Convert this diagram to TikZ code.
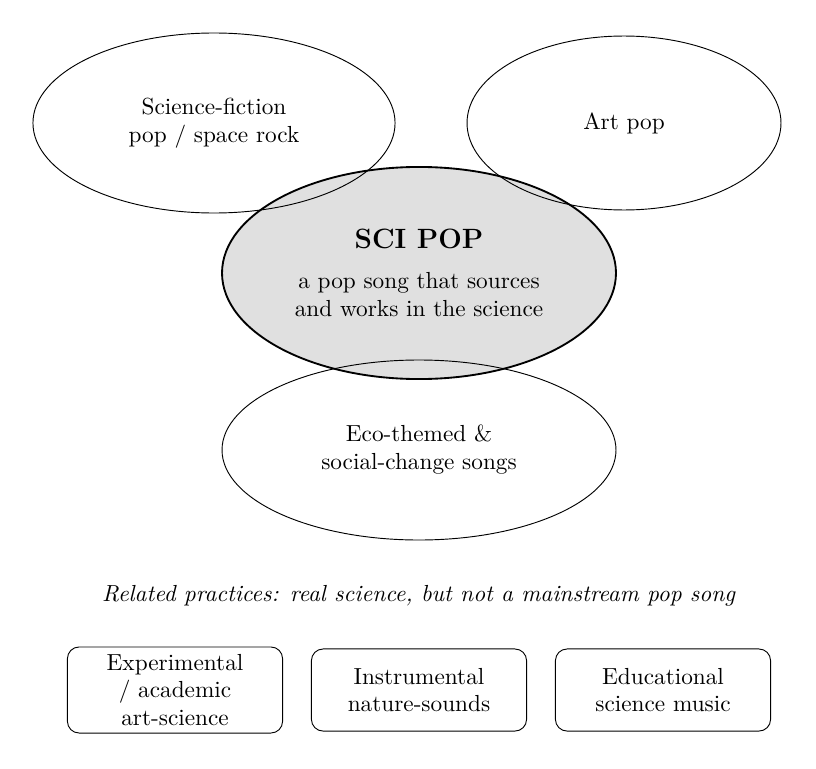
\documentclass[tikz,border=0pt]{standalone}
\usetikzlibrary{shapes.geometric}

\tikzset{
    genre/.style = {ellipse, draw, align=center, inner sep=0pt},
    core/.style = {genre, thick, fill=black!12},
    practice/.style = {draw, rounded corners=5pt, align=center, inner sep=0pt,
        minimum width=92.5pt}
}

\begin{document}
\begin{tikzpicture}[x=0.43pt, y=-0.43pt]
    \useasboundingbox (0,0) rectangle (816,768);
    % the core first, so the other outlines stay on top
    \node (scipop) [core, minimum width=169.4pt, minimum height=91.2pt] at (419,273)
        {\textbf{\large SCI POP}\\[5pt] a pop song that sources\\ and works in the science};
    \node (scifi) [genre, minimum width=155.7pt, minimum height=77.4pt] at (214,123)
        {Science-fiction\\ pop / space rock};
    \node (artpop) [genre, minimum width=135pt, minimum height=74.8pt] at (624,123) {Art pop};
    \node (eco) [genre, minimum width=169.4pt, minimum height=77.4pt] at (419,450)
        {Eco-themed \&\\ social-change songs};

    \node (related) at (419,596)
        {\textit{Related practices: real science, but not a mainstream pop song}};

    \node (experimental) [practice, minimum height=37pt] at (175,690)
        {Experimental\\ / academic\\ art-science};
    \node (instrumental) [practice, minimum height=35.3pt] at (419,690)
        {Instrumental\\ nature-sounds};
    \node (educational) [practice, minimum height=35.3pt] at (663,690)
        {Educational\\ science music};
\end{tikzpicture}
\end{document}
